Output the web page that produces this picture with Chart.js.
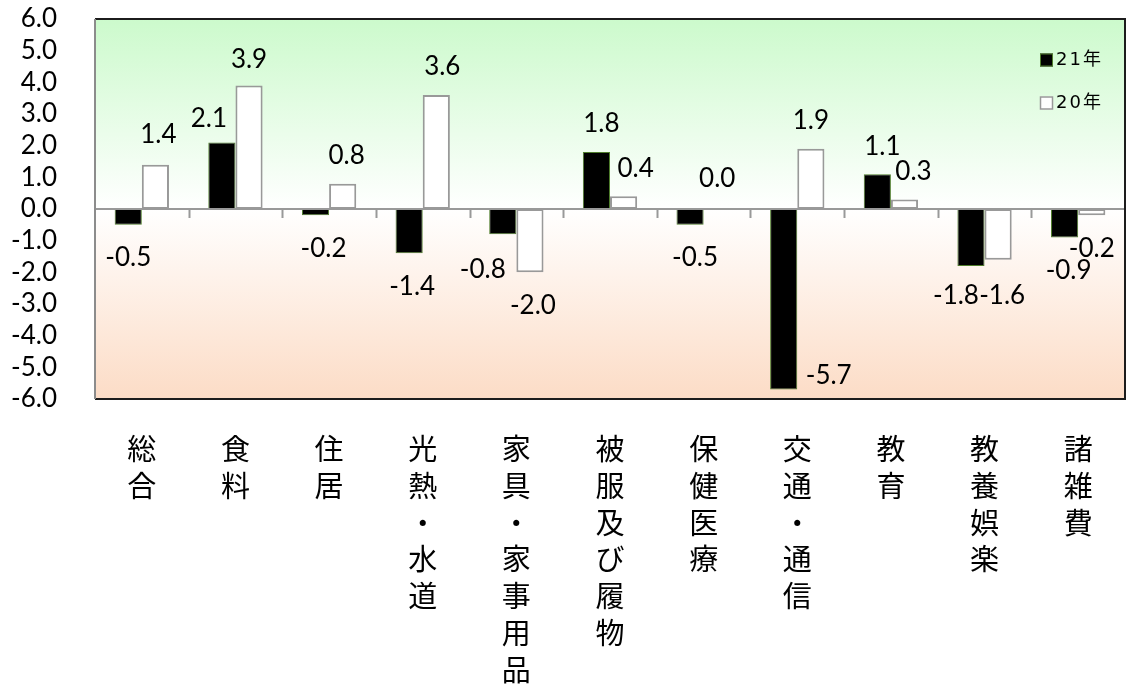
<!DOCTYPE html>
<html>
<head>
<meta charset="utf-8">
<script src="https://cdn.jsdelivr.net/npm/chart.js@4.4.1/dist/chart.umd.min.js"></script>
<style>
  html, body { margin: 0; padding: 0; background: #ffffff; }
  #wrap { width: 1128px; height: 693px; }
</style>
</head>
<body>
<div id="wrap"><canvas id="chart" width="1128" height="693"></canvas></div>
<script>
// 費目別の前年比（％）
const categories = ['総合', '食料', '住居', '光熱・水道', '家具・家事用品', '被服及び履物', '保健医療', '交通・通信', '教育', '教養娯楽', '諸雑費'];
const values21 = [-0.5, 2.1, -0.2, -1.4, -0.8, 1.8, -0.5, -5.7, 1.1, -1.8, -0.9];
const values20 = [1.4, 3.9, 0.8, 3.6, -2.0, 0.4, 0.0, 1.9, 0.3, -1.6, -0.2];
const seriesNames = ['21年', '20年'];
const yMin = -6;
const yMax = 6;
const yStep = 1;

// 値ラベルの微調整（px）: [dx, dy]
const labelNudge = [
  [[0, 0], [-13, 4], [8, 0], [3, 0], [-20, 2], [5, 0], [5, 0], [45, -47], [5, 0], [-15, -3], [4, 0]],
  [[3, -2], [0, 2], [4, 0], [6, 0], [3, 0], [12, 0], [0, -2], [0, 0], [9, 0], [4, 3], [0, 0]]
];

const numFont = 'Lato, "Liberation Sans", sans-serif';
const cjkFont = '"Noto Sans CJK JP", "Noto Sans CJK SC", sans-serif';

// グラフ領域の背景（上:緑 → 中央:白 → 下:橙）
const plotBackground = {
  id: 'plotBackground',
  beforeDraw(chart) {
    const { ctx, chartArea: a } = chart;
    const g = ctx.createLinearGradient(0, a.top, 0, a.bottom);
    g.addColorStop(0, '#ccfacc');
    g.addColorStop(0.5, '#ffffff');
    g.addColorStop(1, '#fcdcc6');
    ctx.save();
    ctx.fillStyle = g;
    ctx.fillRect(a.left, a.top, a.right - a.left, a.bottom - a.top);
    ctx.restore();
  }
};

// 枠線・ゼロ軸・区切り目盛
const frameAndAxis = {
  id: 'frameAndAxis',
  afterDatasetsDraw(chart) {
    const { ctx, chartArea: a, scales } = chart;
    const y0 = scales.y.getPixelForValue(0);
    const n = categories.length;
    const step = (a.right - a.left) / n;
    ctx.save();
    ctx.lineWidth = 2;
    ctx.strokeStyle = '#999999';
    ctx.beginPath();
    ctx.moveTo(a.left, y0);
    ctx.lineTo(a.right, y0);
    for (let i = 1; i < n; i++) {
      const x = Math.round(a.left + step * i) + 0.5;
      ctx.moveTo(x, y0);
      ctx.lineTo(x, y0 + 9);
    }
    ctx.stroke();

    ctx.strokeStyle = '#1c1c1c';
    ctx.beginPath();
    ctx.moveTo(a.left, a.top);
    ctx.lineTo(a.right, a.top);
    ctx.lineTo(a.right, a.bottom);
    ctx.lineTo(a.left, a.bottom);
    ctx.stroke();

    ctx.strokeStyle = '#8c8c8c';
    ctx.beginPath();
    ctx.moveTo(a.left, a.top);
    ctx.lineTo(a.left, a.bottom);
    ctx.stroke();
    ctx.restore();
  }
};

// 値ラベル
const valueLabels = {
  id: 'valueLabels',
  afterDatasetsDraw(chart) {
    const { ctx } = chart;
    ctx.save();
    ctx.font = '26px ' + numFont;
    ctx.fillStyle = '#000000';
    ctx.textAlign = 'center';
    ctx.textBaseline = 'middle';
    chart.data.datasets.forEach((ds, di) => {
      const meta = chart.getDatasetMeta(di);
      meta.data.forEach((bar, i) => {
        const v = ds.data[i];
        const nudge = labelNudge[di][i];
        const ty = v >= 0 ? bar.y - 28 : bar.y + 33;
        ctx.fillText(v.toFixed(1), bar.x + nudge[0], ty + nudge[1]);
      });
    });
    ctx.restore();
  }
};

// 凡例（グラフ領域内の右上）
const insideLegend = {
  id: 'insideLegend',
  afterDraw(chart) {
    const { ctx, chartArea: a } = chart;
    const x = a.right - 85;
    const rows = [a.top + 41, a.top + 84];
    ctx.save();
    ctx.font = '18px "DejaVu Sans", ' + cjkFont;
    ctx.textBaseline = 'middle';
    ctx.textAlign = 'left';
    if ('letterSpacing' in ctx) ctx.letterSpacing = '2px';
    chart.data.datasets.forEach((ds, di) => {
      const cy = rows[di];
      ctx.fillStyle = ds.backgroundColor;
      ctx.fillRect(x, cy - 6.5, 13, 13);
      ctx.lineWidth = di === 0 ? 1 : 1.5;
      ctx.strokeStyle = ds.borderColor;
      ctx.strokeRect(x + 0.5, cy - 6, 12, 12);
      ctx.fillStyle = '#000000';
      ctx.fillText(ds.label, x + 16, cy);
    });
    ctx.restore();
  }
};

new Chart(document.getElementById('chart'), {
  type: 'bar',
  data: {
    labels: categories,
    datasets: [
      {
        label: seriesNames[0],
        data: values21,
        backgroundColor: '#000000',
        borderColor: '#4f7d2c',
        borderWidth: 1,
        borderSkipped: false,
        categoryPercentage: 0.58,
        barPercentage: 1.0
      },
      {
        label: seriesNames[1],
        data: values20,
        backgroundColor: '#ffffff',
        borderColor: '#999999',
        borderWidth: 2,
        borderSkipped: false,
        categoryPercentage: 0.58,
        barPercentage: 1.0
      }
    ]
  },
  options: {
    responsive: false,
    animation: false,
    devicePixelRatio: 1,
    layout: { padding: { top: 19, right: 3, left: 0, bottom: 0 } },
    plugins: {
      legend: { display: false },
      tooltip: { enabled: false }
    },
    scales: {
      x: {
        grid: { display: false },
        border: { display: false },
        ticks: {
          padding: 24,
          color: '#000000',
          maxRotation: 0,
          autoSkip: false,
          font: { family: cjkFont, size: 29, weight: '400', lineHeight: '36.7px' },
          callback: (v, i) => Array.from(categories[i])
        },
        afterFit: (s) => { s.height = 294; }
      },
      y: {
        min: yMin,
        max: yMax,
        grid: { display: false, drawTicks: false },
        border: { display: false },
        ticks: {
          stepSize: yStep,
          autoSkip: false,
          padding: 38,
          color: '#000000',
          font: { family: numFont, size: 26 },
          callback: (v) => Number(v).toFixed(1)
        },
        afterFit: (s) => {
          s.width = 95;
          s.paddingTop = 0;
          s.paddingBottom = 0;
        }
      }
    }
  },
  plugins: [plotBackground, frameAndAxis, valueLabels, insideLegend]
});
</script>
</body>
</html>
